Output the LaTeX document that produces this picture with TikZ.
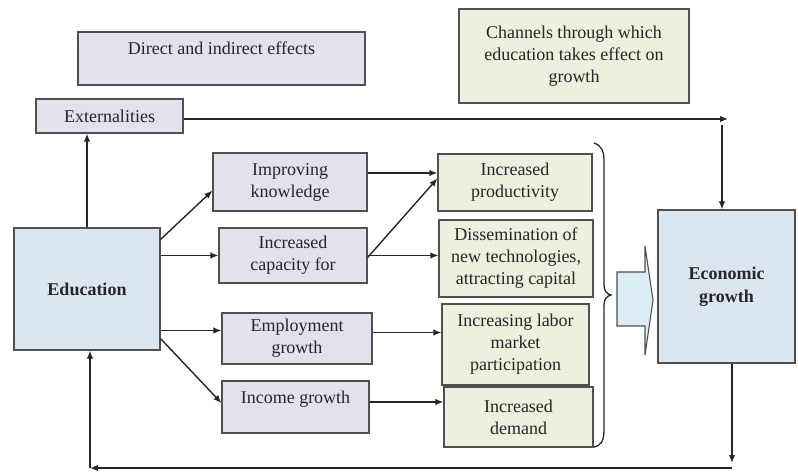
\documentclass[tikz,border=0pt]{standalone}
\usepackage{fontspec}
\IfFontExistsTF{LiberationSerif-Regular.ttf}
  {\setmainfont{LiberationSerif-Regular.ttf}[BoldFont=LiberationSerif-Bold.ttf]}
  {\setmainfont{Liberation Serif}}
\usetikzlibrary{arrows.meta}
\definecolor{purp}{HTML}{E4E0EC}
\definecolor{grn}{HTML}{EBF0DF}
\definecolor{blu}{HTML}{DCE6F1}
\definecolor{arrfill}{HTML}{DAEEF3}
\definecolor{edge}{HTML}{505050}
\definecolor{ink}{HTML}{262626}
\begin{document}
\begin{tikzpicture}[x=1pt,y=-1pt,
  font=\rmfamily\fontsize{18}{22}\selectfont,
  box/.style={draw=edge, line width=1.2pt, inner sep=0pt, align=center, text=ink},
  pbox/.style={box, fill=purp},
  gbox/.style={box, fill=grn},
  bbox/.style={box, fill=blu, font=\rmfamily\fontsize{18}{23}\selectfont\bfseries},
  lbl/.style={text=ink, align=center, inner sep=0pt},
  conn/.style={-{Latex[length=8pt,width=6.5pt]}, line width=1.4pt, draw=black!85},
]
\useasboundingbox[fill=white] (0,0) rectangle (798,473);

% header boxes
\node[pbox, minimum width=287pt, minimum height=53pt] (direct) at (221.5,58.5) {};
\node[lbl] (directtxt) at (221.5,48) {Direct and indirect effects};
\node[gbox, minimum width=230pt, minimum height=94pt] (chan) at (574,56)
  {Channels through which\\education takes effect on\\growth};

% main boxes
\node[pbox, minimum width=147pt, minimum height=34pt] (ext) at (109.5,116) {Externalities};
\node[bbox, minimum width=146pt, minimum height=122pt] (edu) at (87,289) {Education};
\node[bbox, minimum width=137pt, minimum height=153pt] (econ) at (726.5,286.5) {Economic\\growth};

% direct/indirect effects
\node[pbox, minimum width=154pt, minimum height=58pt] (impr) at (290,182) {Improving\\knowledge};
\node[pbox, minimum width=148pt, minimum height=55pt] (cap) at (293,255.5) {Increased\\capacity for};
\node[pbox, minimum width=150pt, minimum height=51pt] (emp) at (297,338.5) {Employment\\growth};
\node[pbox, minimum width=147pt, minimum height=52pt] (inc) at (295.5,407) {};
\node[lbl] (inctxt) at (295.5,399) {Income growth};

% channels
\node[gbox, minimum width=154pt, minimum height=57pt] (prod) at (515,182.5) {Increased\\productivity};
\node[gbox, minimum width=154pt, minimum height=77pt] (diss) at (516,258.5) {Dissemination of\\new technologies,\\attracting capital};
\node[gbox, minimum width=147pt, minimum height=81pt] (lab) at (515.5,344.5) {Increasing labor\\market\\participation};
\node[gbox, minimum width=149pt, minimum height=60pt] (dem) at (518.5,417) {Increased\\demand};

% brace
\draw[line width=1.3pt, draw=black!85]
  (594,143) .. controls (602,146) and (604,151) .. (604,162) -- (604,285)
  .. controls (604,291) and (607,294) .. (611,295)
  .. controls (607,296) and (604,299) .. (604,305) -- (604,430)
  .. controls (604,442) and (600,446) .. (594,447);

% block arrow
\draw[fill=arrfill, draw=edge, line width=1.1pt]
  (617,272) -- (645,272) -- (645,246) -- (653,300) -- (645,355) -- (645,326) -- (617,326) -- cycle;

% helper points
\coordinate (empin) at ([yshift=8pt]emp.west);
\coordinate (improut) at ([yshift=9pt]impr.east);
\coordinate (empout) at ([yshift=6pt]emp.east);
\coordinate (incout) at ([yshift=5pt]inc.east);

% connectors
\draw[conn] (edu.north) -- (edu.north |- ext.south);
\draw[conn] ([yshift=-12pt]edu.north east) -- ([yshift=21pt]impr.south west);
\draw[conn] (edu.east |- cap.west) -- (cap.west);
\draw[conn] (edu.east |- empin) -- (empin);
\draw[conn] ([yshift=12pt]edu.south east) -- ([yshift=4pt]inc.west);

\draw[conn] (improut) -- (prod.west |- improut);
\draw[conn] ([yshift=-2pt]cap.east) -- ([yshift=4pt]prod.west);
\draw[conn] (cap.east) -- (diss.west |- cap.east);
\draw[conn] (empout) -- (lab.west |- empout);
\draw[conn] (incout) -- (dem.west |- incout);

\coordinate (extend) at (728,119);
\coordinate (vtop) at (722,125);
\draw[conn] ([yshift=-3pt]ext.east) -- (extend);
\draw[conn] (vtop) -- (vtop |- econ.north);

\coordinate (bdown) at (732,463);
\coordinate (bright) at (732,468);
\coordinate (bleft) at (90,468);
\draw[conn] (bdown |- econ.south) -- (bdown);
\draw[conn] (bright) -- (bleft);
\draw[conn] (bleft) -- (bleft |- edu.south);
\end{tikzpicture}
\end{document}
